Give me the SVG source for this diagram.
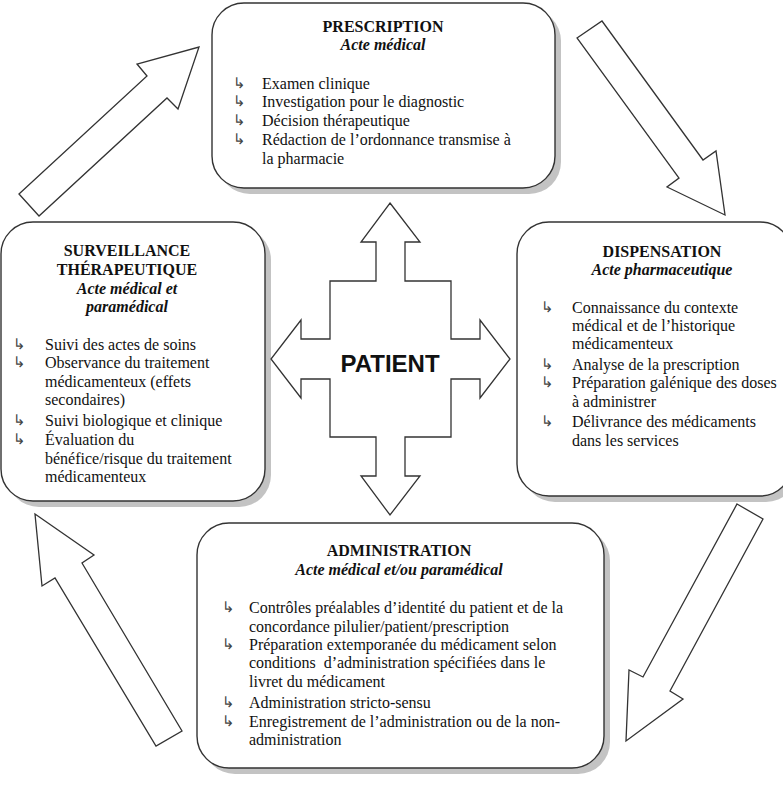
<svg xmlns="http://www.w3.org/2000/svg" width="783" height="800" viewBox="0 0 783 800">
<style>
.box{fill:#fff;stroke:#333;stroke-width:1.4}
.shadow{fill:#c3c3c3}
.t{font-family:"Liberation Serif","Times New Roman",serif;font-size:16px;fill:#111}
.h{font-weight:bold;text-anchor:middle}
.s{font-weight:bold;font-style:italic;text-anchor:middle}
.b{font-family:"DejaVu Sans",sans-serif;font-size:15px;fill:#444}
.arr{fill:#fff;stroke:#333;stroke-width:1.3;stroke-linejoin:miter}
.pt{font-family:"Liberation Sans",Arial,sans-serif;font-weight:bold;font-size:24px;fill:#111;text-anchor:middle}
</style>
<rect width="783" height="800" fill="#fff"/>
<g id="connectors">
<polygon class="arr" points="19,194 147,76 137,64 199,47 178,109 167,98 39,216"/>
<polygon class="arr" points="577,38 602,21 703,160 716,151 725,215 667,187 679,178"/>
<polygon class="arr" points="737,504 763,519 670,691 683,699 626,741 629,670 643,677"/>
<polygon class="arr" points="35,514 94,555 82,563 182,731 156,746 55,578 42,586"/>
</g>
<g id="prescription">
<rect class="shadow" x="218" y="9" width="343" height="185" rx="32"/>
<rect class="box" x="212" y="3" width="343" height="185" rx="32"/>
<text class="t h" x="383" y="32">PRESCRIPTION</text>
<text class="t s" x="383" y="50">Acte médical</text>
<text class="b" x="233" y="88">↳</text><text class="t" x="262" y="89">Examen clinique</text>
<text class="b" x="233" y="106">↳</text><text class="t" x="262" y="107">Investigation pour le diagnostic</text>
<text class="b" x="233" y="125">↳</text><text class="t" x="262" y="126">Décision thérapeutique</text>
<text class="b" x="233" y="144">↳</text><text class="t" x="262" y="145">Rédaction de l’ordonnance transmise à</text>
<text class="t" x="262" y="164">la pharmacie</text>
</g>
<g id="surveillance">
<rect class="shadow" x="7" y="228" width="264" height="279" rx="32"/>
<rect class="box" x="1" y="222" width="264" height="279" rx="32"/>
<text class="t h" x="127" y="256">SURVEILLANCE</text>
<text class="t h" x="127" y="275">THÉRAPEUTIQUE</text>
<text class="t s" x="127" y="294">Acte médical et</text>
<text class="t s" x="127" y="312">paramédical</text>
<text class="b" x="13" y="349">↳</text><text class="t" x="45" y="350">Suivi des actes de soins</text>
<text class="b" x="13" y="367">↳</text><text class="t" x="45" y="368">Observance du traitement</text>
<text class="t" x="45" y="387">médicamenteux (effets</text>
<text class="t" x="45" y="405">secondaires)</text>
<text class="b" x="13" y="425">↳</text><text class="t" x="45" y="426">Suivi biologique et clinique</text>
<text class="b" x="13" y="444">↳</text><text class="t" x="45" y="445">Évaluation du</text>
<text class="t" x="45" y="464">bénéfice/risque du traitement</text>
<text class="t" x="45" y="482">médicamenteux</text>
</g>
<g id="dispensation">
<rect class="shadow" x="523" y="228" width="275" height="274" rx="32"/>
<rect class="box" x="517" y="222" width="275" height="274" rx="32"/>
<text class="t h" x="662" y="257">DISPENSATION</text>
<text class="t s" x="662" y="275">Acte pharmaceutique</text>
<text class="b" x="541" y="312">↳</text><text class="t" x="572" y="313">Connaissance du contexte</text>
<text class="t" x="572" y="331">médical et de l’historique</text>
<text class="t" x="572" y="349">médicamenteux</text>
<text class="b" x="541" y="369">↳</text><text class="t" x="572" y="370">Analyse de la prescription</text>
<text class="b" x="541" y="387">↳</text><text class="t" x="572" y="388">Préparation galénique des doses</text>
<text class="t" x="572" y="407">à administrer</text>
<text class="b" x="541" y="426">↳</text><text class="t" x="572" y="427">Délivrance des médicaments</text>
<text class="t" x="572" y="446">dans les services</text>
</g>
<g id="administration">
<rect class="shadow" x="203" y="529" width="407" height="245" rx="32"/>
<rect class="box" x="197" y="523" width="407" height="245" rx="32"/>
<text class="t h" x="399" y="556">ADMINISTRATION</text>
<text class="t s" x="399" y="575">Acte médical et/ou paramédical</text>
<text class="b" x="222" y="612">↳</text><text class="t" x="249" y="613">Contrôles préalables d’identité du patient et de la</text>
<text class="t" x="249" y="632">concordance pilulier/patient/prescription</text>
<text class="b" x="222" y="649">↳</text><text class="t" x="249" y="650">Préparation extemporanée du médicament selon</text>
<text class="t" x="249" y="668" style="white-space:pre">conditions  d’administration spécifiées dans le</text>
<text class="t" x="249" y="687">livret du médicament</text>
<text class="b" x="222" y="707">↳</text><text class="t" x="249" y="708">Administration stricto-sensu</text>
<text class="b" x="222" y="726">↳</text><text class="t" x="249" y="727">Enregistrement de l’administration ou de la non-</text>
<text class="t" x="249" y="745">administration</text>
</g>
<g id="patient">
<path class="arr" d="M390,203 L420,242 L405,242 L405,281 L451,281 L451,339 L480,339 L480,320 L510,359 L480,398 L480,379 L451,379 L451,437 L405,437 L405,476 L420,476 L390,515 L361,476 L376,476 L376,437 L330,437 L330,379 L301,379 L301,398 L271,359 L301,320 L301,339 L330,339 L330,281 L376,281 L376,242 L361,242 Z"/>
<text class="pt" x="390" y="372">PATIENT</text>
</g>
</svg>
